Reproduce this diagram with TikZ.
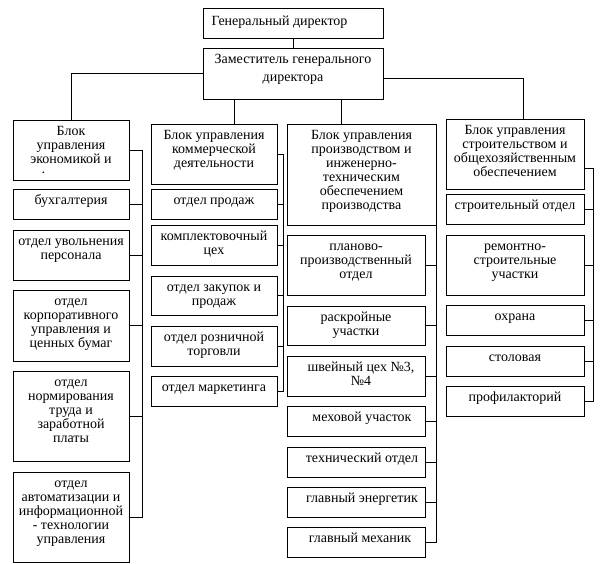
\documentclass[tikz,border=0pt]{standalone}
\usepackage{fontspec}
\setmainfont{Liberation Serif}
\usetikzlibrary{calc}
\newdimen\px \px=0.75pt
\newcommand{\cell}[4][0]{\parbox[t][#3\px][t]{#2\px}{\centering\leftskip=#1\px plus 1fil\rule{0pt}{15.5\px}#4}}

\begin{document}
\begin{tikzpicture}[x=0.75pt,y=-0.75pt,line width=0.6pt,
    unit/.style={draw, inner sep=0pt, outer sep=0pt, anchor=north west,
      font=\fontsize{10.5}{10.5}\selectfont}]
    \useasboundingbox (0,0) rectangle (607,564);
    % top
    \node[unit] (gd) at (203,8) {\parbox[t][30\px][t]{180\px}{\raggedright\leftskip=8.5\px\rule{0pt}{18\px}Генеральный директор}};
    \node[unit, font=\fontsize{10.5}{13.7}\selectfont] (dep) at (203,48) {\cell{180}{51}{Заместитель генерального\\директора}};
    % column 1
    \node[unit] (c1b) at (13,120) {\cell{116}{60}{Блок\\управления\\экономикой и\\\makebox[60\px][l]{·}}};
    \node[unit] (c1a) at (13,189) {\cell{116}{30}{бухгалтерия}};
    \node[unit] (c1c) at (13,230) {\cell{116}{50}{отдел увольнения\\персонала}};
    \node[unit] (c1d) at (13,290) {\cell{116}{71}{отдел\\корпоративного\\управления и\\ценных бумаг}};
    \node[unit] (c1e) at (13,371) {\cell{116}{90}{отдел\\нормирования\\труда и\\заработной\\платы}};
    \node[unit] (c1f) at (13,472) {\cell{116}{90}{отдел\\автоматизации и\\информационной\\- технологии\\управления}};
    % column 2
    \node[unit] (c2b) at (151,124) {\cell{126}{60}{Блок управления\\коммерческой\\деятельности}};
    \node[unit] (c2a) at (151,189) {\cell{126}{30}{отдел продаж}};
    \node[unit] (c2c) at (151,225) {\cell{126}{40}{комплектовочный\\цех}};
    \node[unit] (c2d) at (151,276) {\cell{126}{39}{отдел закупок и\\продаж}};
    \node[unit] (c2e) at (151,326) {\cell{126}{40}{отдел розничной\\торговли}};
    \node[unit] (c2f) at (151,376) {\cell{126}{30}{отдел маркетинга}};
    % column 3
    \node[unit] (c3b) at (287,124) {\cell{149}{101}{Блок управления\\производством и\\инженерно-\\техническим\\обеспечением\\производства}};
    \node[unit] (c3a) at (287,235) {\cell{138}{60}{планово-\\производственный\\отдел}};
    \node[unit] (c3c) at (287,306) {\cell{138}{39}{раскройные\\участки}};
    \node[unit] (c3d) at (287,356) {\cell[10]{138}{40}{швейный цех №3,\\№4}};
    \node[unit] (c3e) at (287,406) {\cell[12]{138}{30}{меховой участок}};
    \node[unit] (c3f) at (287,447) {\cell[12]{138}{30}{технический отдел}};
    \node[unit] (c3g) at (287,487) {\cell[12]{138}{30}{главный энергетик}};
    \node[unit] (c3h) at (287,527) {\cell[8]{138}{30}{главный механик}};
    % column 4
    \node[unit] (c4b) at (446,119) {\cell{138}{70}{Блок управления\\строительством и\\общехозяйственным\\обеспечением}};
    \node[unit] (c4a) at (446,194) {\cell{138}{30}{строительный отдел}};
    \node[unit] (c4c) at (446,235) {\cell{138}{60}{ремонтно-\\строительные\\участки}};
    \node[unit] (c4d) at (446,305) {\cell{138}{30}{охрана}};
    \node[unit] (c4e) at (446,346) {\cell{138}{30}{столовая}};
    \node[unit] (c4f) at (446,386) {\cell{138}{30}{профилакторий}};
    % links from the top
    \draw (gd.south) -- (dep.north);
    \draw (dep.west) -| (c1b.north);
    \draw ([yshift=-3.4pt]dep.east) -| ([xshift=6pt]c4b.north);
    \coordinate (m2) at ($(dep.south west)+(31,0)$);
    \coordinate (m3) at ($(dep.south west)+(138,0)$);
    \draw (m2) -- (m2 |- c2b.north);
    \draw (m3) -- (m3 |- c3b.north);
    % brackets
    \coordinate (bus1) at (142,0);
    \draw (c1b.east) -- (c1b.east -| bus1) -- (c1f.east -| bus1) -- (c1f.east);
    \draw (c1a.east) -- (c1a.east -| bus1); \draw (c1c.east) -- (c1c.east -| bus1);
    \draw (c1d.east) -- (c1d.east -| bus1); \draw (c1e.east) -- (c1e.east -| bus1);
    \coordinate (bus2) at (283.3,0);
    \draw (c2b.east) -- (c2b.east -| bus2) -- (c2f.east -| bus2) -- (c2f.east);
    \draw (c2a.east) -- (c2a.east -| bus2); \draw (c2c.east) -- (c2c.east -| bus2);
    \draw (c2d.east) -- (c2d.east -| bus2); \draw (c2e.east) -- (c2e.east -| bus2);
    \draw (c3b.east) -- (c3h.east -| c3b.east) -- (c3h.east);
    \draw (c3a.east) -- (c3a.east -| c3b.east); \draw (c3c.east) -- (c3c.east -| c3b.east);
    \draw (c3d.east) -- (c3d.east -| c3b.east); \draw (c3e.east) -- (c3e.east -| c3b.east);
    \draw (c3f.east) -- (c3f.east -| c3b.east); \draw (c3g.east) -- (c3g.east -| c3b.east);
    \coordinate (bus4) at (593.3,0);
    \draw ([yshift=-10.5pt]c4b.east) -- ([yshift=-10.5pt]c4b.east -| bus4) -- (c4f.east -| bus4) -- (c4f.east);
    \draw (c4a.east) -- (c4a.east -| bus4); \draw (c4c.east) -- (c4c.east -| bus4);
    \draw (c4d.east) -- (c4d.east -| bus4); \draw (c4e.east) -- (c4e.east -| bus4);
\end{tikzpicture}
\end{document}
